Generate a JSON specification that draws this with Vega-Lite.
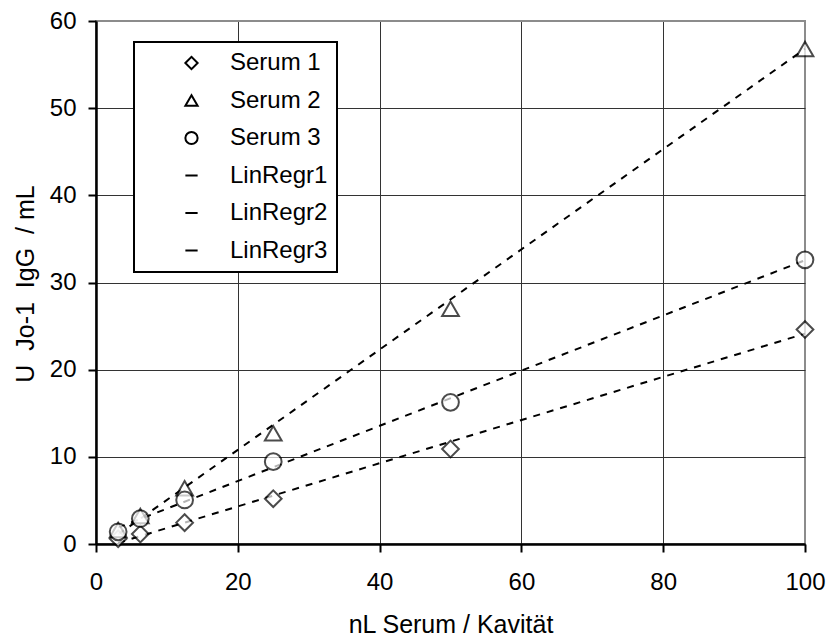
{
  "$schema": "https://vega.github.io/schema/vega-lite/v6.json",
  "width": 709,
  "height": 523,
  "autosize": "none",
  "padding": {"left": 96, "top": 21, "right": 24, "bottom": 92},
  "background": "white",
  "config": {
    "font": "Liberation Sans",
    "view": {"stroke": "#8c8c8c", "strokeWidth": 2},
    "axis": {
      "domainColor": "black",
      "domainWidth": 2.5,
      "tickColor": "black",
      "tickWidth": 2,
      "tickSize": 8,
      "labelColor": "black",
      "labelFontSize": 24,
      "labelFont": "Liberation Sans",
      "labelFlush": false,
      "labelOverlap": false,
      "titleColor": "black",
      "titleFont": "Liberation Sans",
      "titleFontSize": 25,
      "titleFontWeight": "normal",
      "gridWidth": 1
    }
  },
  "datasets": {
    "points": [
      {"x": 3.125, "y": 0.6, "series": "Serum 1"},
      {"x": 6.25, "y": 1.15, "series": "Serum 1"},
      {"x": 12.5, "y": 2.45, "series": "Serum 1"},
      {"x": 25, "y": 5.2, "series": "Serum 1"},
      {"x": 50, "y": 10.9, "series": "Serum 1"},
      {"x": 100, "y": 24.6, "series": "Serum 1"},
      {"x": 3.125, "y": 1.6, "series": "Serum 2"},
      {"x": 6.25, "y": 3.2, "series": "Serum 2"},
      {"x": 12.5, "y": 6.4, "series": "Serum 2"},
      {"x": 25, "y": 12.7, "series": "Serum 2"},
      {"x": 50, "y": 27.0, "series": "Serum 2"},
      {"x": 100, "y": 56.8, "series": "Serum 2"},
      {"x": 3.125, "y": 1.4, "series": "Serum 3"},
      {"x": 6.25, "y": 2.9, "series": "Serum 3"},
      {"x": 12.5, "y": 5.05, "series": "Serum 3"},
      {"x": 25, "y": 9.45, "series": "Serum 3"},
      {"x": 50, "y": 16.25, "series": "Serum 3"},
      {"x": 100, "y": 32.6, "series": "Serum 3"}
    ],
    "lines": [
      {"x": 3.125, "y": 0.13, "series": "LinRegr1"},
      {"x": 100, "y": 24.13, "series": "LinRegr1"},
      {"x": 3.125, "y": 1.1, "series": "LinRegr2"},
      {"x": 100, "y": 56.8, "series": "LinRegr2"},
      {"x": 3.125, "y": 1.88, "series": "LinRegr3"},
      {"x": 100, "y": 32.55, "series": "LinRegr3"}
    ]
  },
  "encoding": {
    "x": {
      "field": "x",
      "type": "quantitative",
      "scale": {"domain": [0, 100], "nice": false, "zero": false},
      "axis": {
        "title": "nL Serum / Kavität",
        "values": [0, 20, 40, 60, 80, 100],
        "grid": true,
        "gridColor": {"condition": {"test": "datum.value >= 100", "value": "#8c8c8c"}, "value": "#333333"},
        "labelBaseline": "alphabetic",
        "labelPadding": 37,
        "titleX": 354.5,
        "titleY": 88,
        "titleAlign": "center",
        "titleBaseline": "alphabetic"
      }
    },
    "y": {
      "field": "y",
      "type": "quantitative",
      "scale": {"domain": [0, 60], "nice": false},
      "axis": {
        "title": "U\u00a0 Jo-1\u00a0 IgG\u00a0 / mL",
        "values": [0, 10, 20, 30, 40, 50, 60],
        "grid": true,
        "gridColor": {"condition": {"test": "datum.value >= 60", "value": "#8c8c8c"}, "value": "#333333"},
        "labelPadding": 12,
        "titleX": -63,
        "titleY": 262.5,
        "titleAngle": -90,
        "titleAlign": "center",
        "titleBaseline": "alphabetic"
      }
    }
  },
  "layer": [
    {
      "data": {"name": "lines"},
      "mark": {"type": "line", "color": "black", "strokeWidth": 2, "strokeDash": [7, 7]},
      "encoding": {"detail": {"field": "series", "type": "nominal"}}
    },
    {
      "data": {"name": "points"},
      "mark": {"type": "point", "filled": true, "fill": "white", "stroke": "black", "strokeWidth": 2, "size": 280},
      "encoding": {
        "shape": {
          "field": "series",
          "type": "nominal",
          "scale": {
            "domain": ["Serum 1", "Serum 2", "Serum 3", "LinRegr1", "LinRegr2", "LinRegr3"],
            "range": ["diamond", "triangle-up", "circle", "stroke", "stroke", "stroke"]
          },
          "legend": {
            "title": null,
            "orient": "none",
            "legendX": 38,
            "legendY": 21,
            "fillColor": "white",
            "strokeColor": "black",
            "padding": 9,
            "symbolOffset": 36.5,
            "labelOffset": 26.5,
            "rowPadding": 13.5,
            "symbolSize": 150,
            "symbolOpacity": 1,
            "labelFontSize": 24,
            "labelFont": "Liberation Sans",
            "labelColor": "black",
            "labelLimit": 0,
            "encoding": {
              "symbols": {
                "stroke": {"value": "black"},
                "strokeWidth": {"value": 2},
                "fill": {"value": "white"},
                "opacity": {"value": 1}
              },
              "legend": {
                "strokeWidth": {"value": 2}
              }
            }
          }
        }
      }
    }
  ]
}
